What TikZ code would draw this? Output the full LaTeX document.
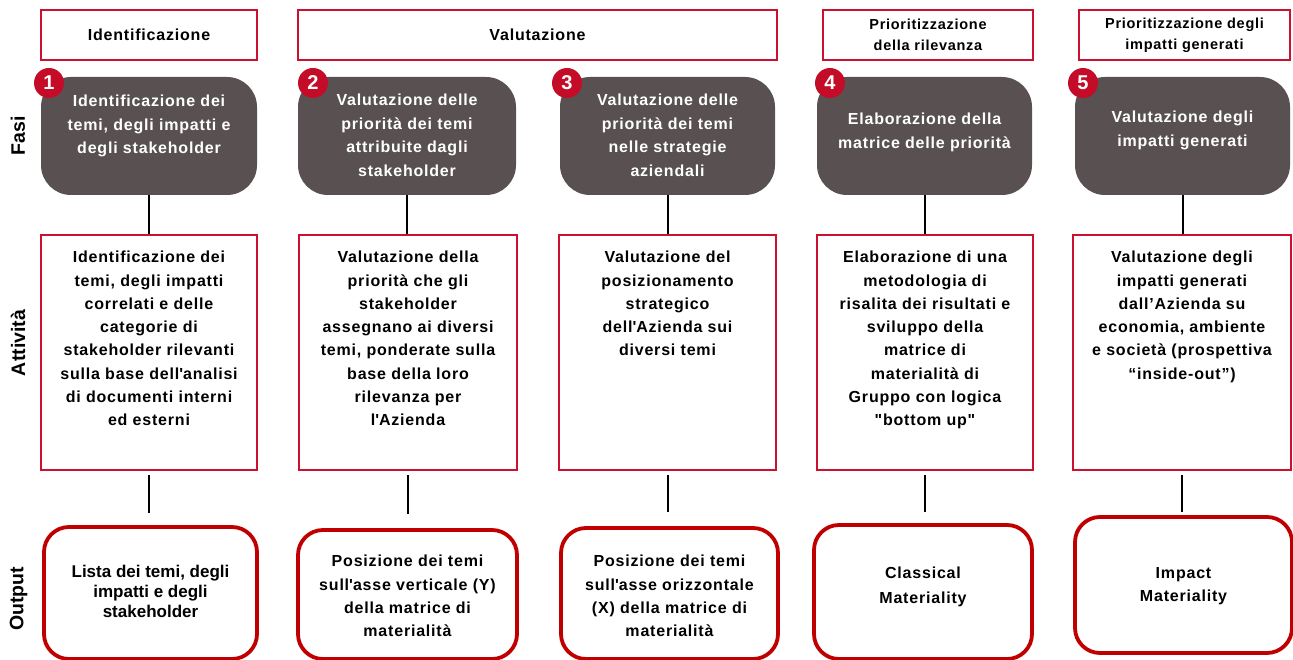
\documentclass[tikz,border=0pt]{standalone}
\usepackage{fontspec}
\setmainfont{Liberation Sans}
\newfontfamily\lsfont[LetterSpace=5]{Liberation Sans}
\usetikzlibrary{calc}
\definecolor{redline}{RGB}{204,16,48}
\definecolor{outred}{RGB}{192,0,0}
\definecolor{phasefill}{RGB}{89,81,81}
\definecolor{numred}{RGB}{196,12,40}
\newcommand{\ap}{\textquotesingle}
\begin{document}
\begin{tikzpicture}[x=1pt,y=-1pt,
  hbox/.style={draw=redline, line width=2.8pt, minimum height=50pt, inner sep=0pt, align=center,
    font=\lsfont\bfseries\fontsize{16}{21}\selectfont},
  hboxs/.style={hbox, font=\lsfont\bfseries\fontsize{14.5}{21}\selectfont},
  phase/.style={fill=phasefill, rounded corners=30pt, minimum height=118pt, inner sep=0pt},
  actbox/.style={draw=redline, line width=2.8pt, minimum height=235pt, inner sep=0pt},
  outbox/.style={draw=outred, line width=3.8pt, rounded corners=25pt, inner sep=0pt},
  ptext/.style={anchor=north, inner sep=0pt, align=center, text=white,
    font=\lsfont\bfseries\fontsize{16}{23.5}\selectfont},
  atext/.style={anchor=north, inner sep=0pt, align=center,
    font=\lsfont\bfseries\fontsize{16}{23.3}\selectfont},
  otext/.style={anchor=north, inner sep=0pt, align=center,
    font=\lsfont\bfseries\fontsize{16}{23.3}\selectfont},
  num/.style={circle, fill=numred, minimum size=30pt, inner sep=0pt, text=white,
    font=\bfseries\fontsize{20}{20}\selectfont},
  rowlabel/.style={rotate=90, inner sep=0pt, font=\bfseries\fontsize{19.5}{20}\selectfont},
  conn/.style={line width=2pt, black}
]
\useasboundingbox (0,0) rectangle (1293,660);

% header boxes
\node[hbox, minimum width=216pt] (h1) at (149,35) {Identificazione};
\node[hbox, minimum width=479pt] (h2) at (537.5,35) {Valutazione};
\node[hboxs, minimum width=210pt] (h3) at (928,35) {Prioritizzazione\\della rilevanza};
\node[hboxs, minimum width=211pt] (h4) at (1184.5,35) {Prioritizzazione degli\\impatti generati};

% row labels
\node[rowlabel] (lf) at (18,136) {Fasi};
\node[rowlabel] (la) at (18,343) {Attività};
\node[rowlabel] (lo) at (18.5,599) {Output};

% phase boxes
\node[phase, minimum width=216pt] (p1) at (149,136) {};
\node[phase, minimum width=218pt] (p2) at (407,136) {};
\node[phase, minimum width=215pt] (p3) at (667.5,136) {};
\node[phase, minimum width=215pt] (p4) at (924.5,136) {};
\node[phase, minimum width=215pt] (p5) at (1182.5,136) {};

\node[ptext] (p1t) at (149,95) {Identificazione dei\\temi, degli impatti e\\degli stakeholder};
\node[ptext] (p2t) at (407,94) {Valutazione delle\\priorità dei temi\\attribuite dagli\\stakeholder};
\node[ptext] (p3t) at (667.5,94) {Valutazione delle\\priorità dei temi\\nelle strategie\\aziendali};
\node[ptext] (p4t) at (924.5,113) {Elaborazione della\\matrice delle priorità};
\node[ptext] (p5t) at (1182.5,111) {Valutazione degli\\impatti generati};

% numbers
\node[num] (n1) at (49,83) {1};
\node[num] (n2) at (313,83) {2};
\node[num] (n3) at (567,83) {3};
\node[num] (n4) at (830,83) {4};
\node[num] (n5) at (1083,83) {5};

% activity boxes
\node[actbox, minimum width=216pt] (a1) at (149,352.5) {};
\node[actbox, minimum width=218pt] (a2) at (408,352.5) {};
\node[actbox, minimum width=217pt] (a3) at (667.5,352.5) {};
\node[actbox, minimum width=216pt] (a4) at (925,352.5) {};
\node[actbox, minimum width=218pt] (a5) at (1182,352.5) {};

\node[atext] (a1t) at (149,251) {Identificazione dei\\temi, degli impatti\\correlati e delle\\categorie di\\stakeholder rilevanti\\sulla base dell\ap analisi\\di documenti interni\\ed esterni};
\node[atext] (a2t) at (408,251) {Valutazione della\\priorità che gli\\stakeholder\\assegnano ai diversi\\temi, ponderate sulla\\base della loro\\rilevanza per\\l\ap Azienda};
\node[atext] (a3t) at (667.5,251) {Valutazione del\\posizionamento\\strategico\\dell\ap Azienda sui\\diversi temi};
\node[atext] (a4t) at (925,251) {Elaborazione di una\\metodologia di\\risalita dei risultati e\\sviluppo della\\matrice di\\materialità di\\Gruppo con logica\\"bottom up"};
\node[atext] (a5t) at (1182,251) {Valutazione degli\\impatti generati\\dall’Azienda su\\economia, ambiente\\e società (prospettiva\\“inside-out”)};

% output boxes
\node[outbox, minimum width=213pt, minimum height=132pt] (o1) at (150.5,593) {};
\node[outbox, minimum width=219pt, minimum height=129pt] (o2) at (407.5,594.5) {};
\node[outbox, minimum width=217pt, minimum height=131pt] (o3) at (669.5,593.5) {};
\node[outbox, minimum width=218pt, minimum height=134pt] (o4) at (923,592) {};
\node[outbox, minimum width=217pt, minimum height=136pt] (o5) at (1183.5,585) {};

\node[otext, font=\bfseries\fontsize{17}{20}\selectfont] (o1t) at (150.5,565) {Lista dei temi, degli\\impatti e degli\\stakeholder};
\node[otext] (o2t) at (407.5,555) {Posizione dei temi\\sull\ap asse verticale (Y)\\della matrice di\\materialità};
\node[otext] (o3t) at (669.5,555) {Posizione dei temi\\sull\ap asse orizzontale\\(X) della matrice di\\materialità};
\node[otext, font=\lsfont\bfseries\fontsize{16}{25}\selectfont] (o4t) at (923,567) {Classical\\Materiality};
\node[otext] (o5t) at (1183.5,567) {Impact\\Materiality};

% connectors phase -> activity
\foreach \i in {1,...,5} {
  \draw[conn] (p\i.south) -- (p\i.south |- a\i.north);
}
% connectors activity -> output
\draw[conn, shorten <=4pt, shorten >=12pt] (a1.south) -- (a1.south |- o1.north);
\draw[conn, shorten <=4pt, shorten >=14pt] (a2.south) -- (a2.south |- o2.north);
\draw[conn, shorten <=4pt, shorten >=14pt] (a3.south) -- (a3.south |- o3.north);
\draw[conn, shorten <=4pt, shorten >=11pt] (a4.south) -- (a4.south |- o4.north);
\draw[conn, shorten <=4pt, shorten >=3pt] (a5.south) -- (a5.south |- o5.north);
\end{tikzpicture}
\end{document}
